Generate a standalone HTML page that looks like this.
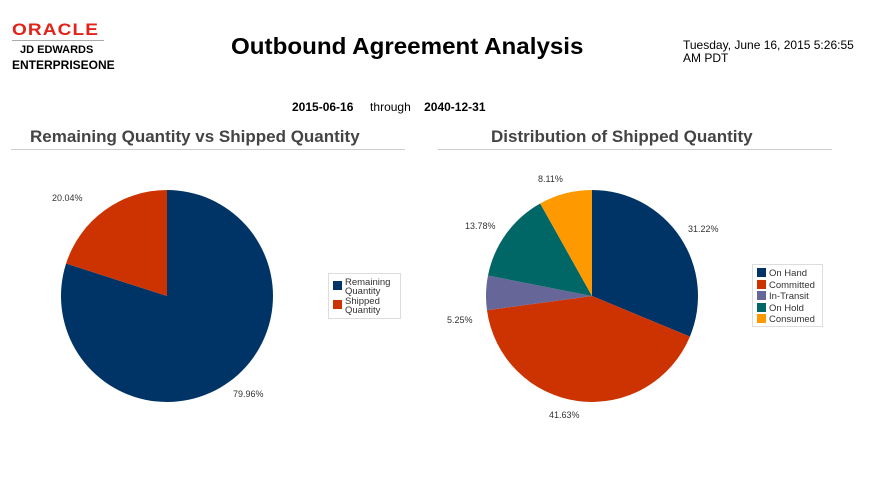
<!DOCTYPE html>
<html><head><meta charset="utf-8"><style>
body{margin:0;width:869px;height:477px;background:#fff;font-family:"Liberation Sans",sans-serif;position:relative;overflow:hidden}
.a{position:absolute;white-space:nowrap}
</style></head><body>
<div class="a" style="left:12px;top:20px;color:#e2231a;font-size:17px;font-weight:bold;letter-spacing:1px;transform:scaleX(1.12);transform-origin:left">ORACLE</div>
<div class="a" style="left:12px;top:40px;width:92px;border-top:1px solid #aaa"></div>
<div class="a" style="left:20px;top:44px;font-size:11px;font-weight:bold">JD EDWARDS</div>
<div class="a" style="left:12px;top:58px;font-size:12px;font-weight:bold">ENTERPRISEONE</div>
<div class="a" style="left:231px;top:33px;font-size:23px;font-weight:bold;transform:scaleX(1.05);transform-origin:left">Outbound Agreement Analysis</div>
<div class="a" style="left:683px;top:39px;font-size:12px;line-height:13px">Tuesday, June 16, 2015 5:26:55<br>AM PDT</div>
<div class="a" style="left:292px;top:100px;font-size:12px"><b>2015-06-16</b>&nbsp;&nbsp;&nbsp;&nbsp; through &nbsp;&nbsp;&nbsp;<b>2040-12-31</b></div>
<div class="a" style="left:30px;top:127px;font-size:17px;font-weight:bold;color:#444">Remaining Quantity vs Shipped Quantity</div>
<div class="a" style="left:11px;top:149px;width:394px;border-top:1px solid #ccc"></div>
<div class="a" style="left:491px;top:127px;font-size:17px;font-weight:bold;color:#444">Distribution of Shipped Quantity</div>
<div class="a" style="left:438px;top:149px;width:394px;border-top:1px solid #ccc"></div>
<svg class="a" style="left:0;top:0" width="869" height="477">
<path d="M167,296 L167,190 A106,106 0 1 1 66.1,263.5 Z" fill="#003366"/>
<path d="M167,296 L66.1,263.5 A106,106 0 0 1 167,190 Z" fill="#cc3300"/>
<path d="M592,296 L592,190 A106,106 0 0 1 689.9,336.6 Z" fill="#003366"/>
<path d="M592,296 L689.9,336.6 A106,106 0 0 1 486.97,310.3 Z" fill="#cc3300"/>
<path d="M592,296 L486.97,310.3 A106,106 0 0 1 488,275.5 Z" fill="#666699"/>
<path d="M592,296 L488,275.5 A106,106 0 0 1 540.2,203.5 Z" fill="#006666"/>
<path d="M592,296 L540.2,203.5 A106,106 0 0 1 592,190 Z" fill="#ff9900"/>
<g font-size="9" fill="#333" font-family="Liberation Sans,sans-serif">
<text x="52" y="201">20.04%</text><text x="233" y="397">79.96%</text>
<text x="538" y="182">8.11%</text><text x="688" y="232">31.22%</text>
<text x="465" y="229">13.78%</text><text x="447" y="323">5.25%</text>
<text x="549" y="418">41.63%</text>
</g>
<rect x="328.5" y="273.5" width="72" height="45" fill="#fff" stroke="#ddd"/>
<rect x="333" y="281" width="9" height="9" fill="#003366"/><rect x="333" y="300" width="9" height="9" fill="#cc3300"/>
<g font-size="9.5" fill="#333" font-family="Liberation Sans,sans-serif">
<text x="345" y="285">Remaining</text><text x="345" y="294">Quantity</text>
<text x="345" y="304">Shipped</text><text x="345" y="313">Quantity</text>
</g>
<rect x="752.5" y="264.5" width="70" height="62" fill="#fff" stroke="#ddd"/>
<rect x="757" y="268" width="9" height="9" fill="#003366"/><rect x="757" y="280" width="9" height="9" fill="#cc3300"/>
<rect x="757" y="291" width="9" height="9" fill="#666699"/><rect x="757" y="303" width="9" height="9" fill="#006666"/>
<rect x="757" y="314" width="9" height="9" fill="#ff9900"/>
<g font-size="9.5" fill="#333" font-family="Liberation Sans,sans-serif">
<text x="769" y="276">On Hand</text><text x="769" y="288">Committed</text><text x="769" y="299">In-Transit</text>
<text x="769" y="311">On Hold</text><text x="769" y="322">Consumed</text>
</g>
</svg>
</body></html>
